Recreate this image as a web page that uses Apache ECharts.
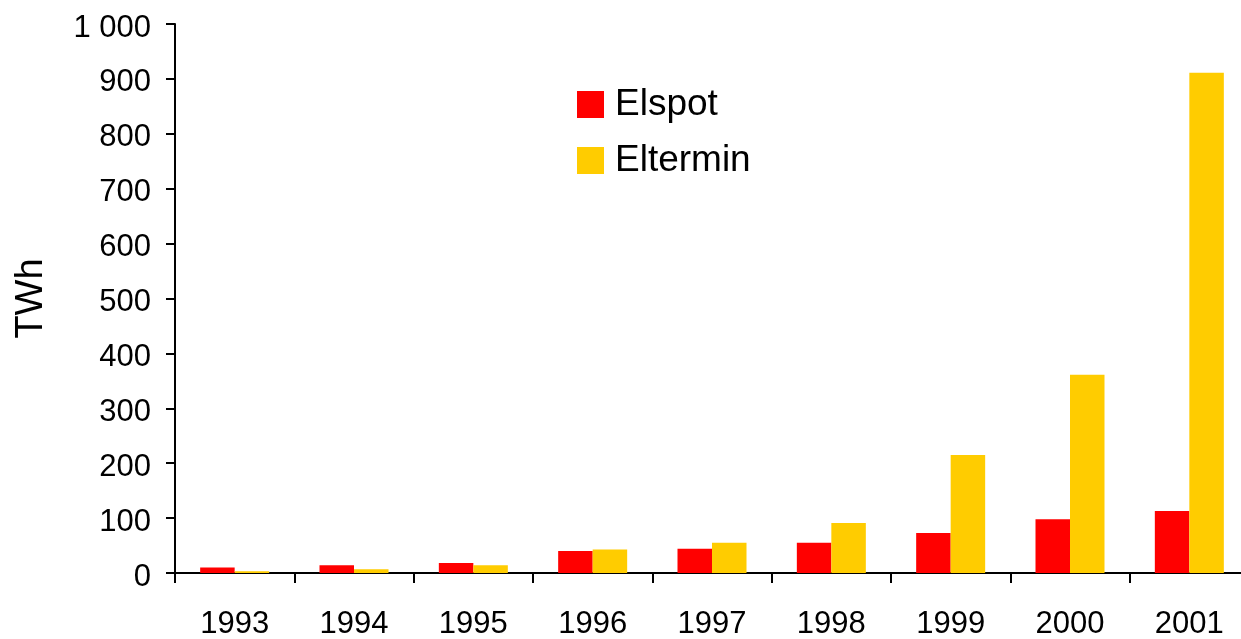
<!DOCTYPE html>
<html lang="en">

<head>
    <meta charset="UTF-8">
    <title>Elspot / Eltermin</title>
    <script src="https://cdn.jsdelivr.net/npm/echarts@6/dist/echarts.min.js"></script>
    <style>
        html, body { margin: 0; padding: 0; background: #fff; }
        #chart { width: 1241px; height: 639px; }
    </style>
</head>

<body>
    <div id="chart"></div>
    <script>
        // years on the x axis
        var years = ['1993', '1994', '1995', '1996', '1997', '1998', '1999', '2000', '2001'];

        // TWh
        var elspot = [10, 14, 18, 40, 44, 55, 73, 98, 113];
        var eltermin = [3, 7, 14, 43, 55, 91, 215, 361, 911];

        var yTicks = [0, 100, 200, 300, 400, 500, 600, 700, 800, 900, 1000];

        var font = "'Liberation Sans', Arial, sans-serif";

        var chart = echarts.init(document.getElementById('chart'));

        var option = {
            backgroundColor: '#fff',
            animation: false,
            textStyle: { fontFamily: font, color: '#000' },
            grid: {
                left: 175,
                width: 1074,   // last category runs a bit past the right edge
                top: 24,
                height: 549,
                outerBoundsMode: 'none'
            },
            legend: {
                orient: 'vertical',
                left: 577,
                top: 86,
                padding: 0,
                itemWidth: 27,
                itemHeight: 27,
                itemGap: 19,
                icon: 'rect',
                textStyle: { fontSize: 37, color: '#000', fontFamily: font, padding: [0, 0, 0, 6] },
                data: ['Elspot', 'Eltermin']
            },
            xAxis: {
                type: 'category',
                data: years,
                axisLine: { lineStyle: { color: '#000', width: 2 } },
                axisTick: { show: true, length: 10, lineStyle: { color: '#000', width: 2 } },
                axisLabel: { fontSize: 31, color: '#000', margin: 36, fontFamily: font },
                splitLine: { show: false }
            },
            yAxis: {
                type: 'value',
                min: yTicks[0],
                max: yTicks[yTicks.length - 1],
                interval: 100,
                name: 'TWh',
                nameLocation: 'middle',
                nameGap: 124,
                nameTextStyle: { fontSize: 38, color: '#000', fontFamily: font },
                axisLine: { show: true, lineStyle: { color: '#000', width: 2 } },
                axisTick: { show: true, length: 9, lineStyle: { color: '#000', width: 2 } },
                axisLabel: {
                    fontSize: 31,
                    color: '#000',
                    margin: 24,
                    fontFamily: font,
                    // labels sit a few px below their tick in the original
                    formatter: function (v) {
                        return '{v|' + String(v).replace(/\B(?=(\d{3})+(?!\d))/g, ' ') + '}';
                    },
                    rich: {
                        v: { fontSize: 31, color: '#000', fontFamily: font, padding: [8, 0, 0, 0] }
                    }
                },
                splitLine: { show: false }
            },
            series: [
                {
                    name: 'Elspot',
                    type: 'bar',
                    data: elspot,
                    barWidth: 34.5,
                    barGap: '0%',
                    itemStyle: { color: '#ff0000' }
                },
                {
                    name: 'Eltermin',
                    type: 'bar',
                    data: eltermin,
                    barWidth: 34.5,
                    barGap: '0%',
                    itemStyle: { color: '#ffcc00' }
                }
            ]
        };

        chart.setOption(option);
    </script>
</body>

</html>
